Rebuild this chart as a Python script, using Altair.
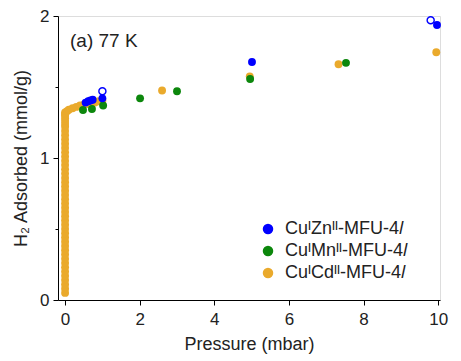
import altair as alt
import pandas as pd

zn_x = [0.55, 0.62, 0.68, 0.74, 1.0, 5.01, 9.97]
zn_y = [1.39, 1.40, 1.405, 1.41, 1.42, 1.676, 1.937]
zn_open_x = [1.0, 9.8]
zn_open_y = [1.47, 1.97]

mn_x = [0.48, 0.72, 1.02, 2.01, 3.0, 4.96, 7.53]
mn_y = [1.338, 1.345, 1.37, 1.42, 1.47, 1.556, 1.67]

cd_x = [0, 0, 0, 0, 0, 0, 0, 0, 0, 0, 0, 0, 0, 0, 0, 0, 0, 0, 0, 0,
        0, 0, 0, 0, 0, 0, 0, 0, 0, 0, 0, 0, 0, 0, 0, 0, 0, 0, 0, 0,
        0, 0, 0, 0, 0, 0,
        0.05, 0.1, 0.2, 0.3, 0.4, 0.5, 0.6, 0.7, 0.8, 0.9, 1.0,
        2.6, 4.95, 7.33, 9.95]
cd_y = [0.05, 0.08, 0.11, 0.14, 0.17, 0.20, 0.23, 0.26, 0.29, 0.32,
        0.35, 0.38, 0.41, 0.44, 0.47, 0.50, 0.53, 0.56, 0.59, 0.62,
        0.65, 0.68, 0.71, 0.74, 0.77, 0.80, 0.83, 0.86, 0.89, 0.92,
        0.95, 0.98, 1.01, 1.04, 1.07, 1.10, 1.13, 1.16, 1.19, 1.22,
        1.24, 1.26, 1.28, 1.30, 1.31, 1.32,
        1.33, 1.34, 1.35, 1.36, 1.37, 1.375, 1.38, 1.385, 1.39, 1.40, 1.405,
        1.475, 1.575, 1.66, 1.745]

names = ["Cu\u1d35Zn\u1d35\u1d35-MFU-4\U0001D459",
         "Cu\u1d35Mn\u1d35\u1d35-MFU-4\U0001D459",
         "Cu\u1d35Cd\u1d35\u1d35-MFU-4\U0001D459"]
colors = ["#0000FF", "#0C870C", "#EAAA2C"]

rows = []
for x, y in zip(cd_x, cd_y):
    rows.append({"p": x, "q": y, "s": names[2], "o": 0})
for x, y in zip(mn_x, mn_y):
    rows.append({"p": x, "q": y, "s": names[1], "o": 1})
for x, y in zip(zn_x, zn_y):
    rows.append({"p": x, "q": y, "s": names[0], "o": 2})
df = pd.DataFrame(rows)
df_open = pd.DataFrame({"p": zn_open_x, "q": zn_open_y})

font = "Liberation Sans"

xscale = alt.Scale(domain=[-0.19, 10.05], nice=False, zero=False)
yscale = alt.Scale(domain=[0, 2], nice=False, zero=False)

xaxis = alt.Axis(
    values=[0, 1, 2, 3, 4, 5, 6, 7, 8, 9, 10],
    labelExpr="datum.value % 2 === 0 ? format(datum.value, 'd') : ''",
    tickSize={"condition": {"test": "datum.value % 2 === 0", "value": 5}, "value": 3},
    grid=False, domainColor="black", tickColor="black", labelColor="#222",
    labelFont=font, labelFontSize=17, titleFont=font, titleFontSize=18,
    titleFontWeight="normal", titleColor="#222", labelPadding=6, titlePadding=8,
    title="Pressure (mbar)",
)
yaxis = alt.Axis(
    values=[0, 0.5, 1, 1.5, 2],
    labelExpr="datum.value % 1 === 0 ? format(datum.value, 'd') : ''",
    tickSize={"condition": {"test": "datum.value % 1 === 0", "value": 5}, "value": 3},
    grid=False, domainColor="black", tickColor="black", labelColor="#222",
    labelFont=font, labelFontSize=17, titleFont=font, titleFontSize=18,
    titleFontWeight="normal", titleColor="#222", labelPadding=4, titlePadding=9,
    title="H\u2082 Adsorbed (mmol/g)",
)

filled = alt.Chart(df).mark_point(filled=True, size=62, opacity=1).encode(
    x=alt.X("p:Q", scale=xscale, axis=xaxis),
    y=alt.Y("q:Q", scale=yscale, axis=yaxis),
    color=alt.Color(
        "s:N",
        scale=alt.Scale(domain=names, range=colors),
        legend=alt.Legend(
            title=None, orient="none", legendX=201, legendY=204,
            labelFont=font, labelFontSize=18, labelColor="#222",
            symbolSize=110, symbolType="circle", rowPadding=4, padding=0,
            labelOffset=8,
        ),
    ),
    order=alt.Order("o:Q"),
)

opened = alt.Chart(df_open).mark_point(filled=False, size=50, color="#0000FF",
                                       strokeWidth=1.4, opacity=1).encode(
    x=alt.X("p:Q", scale=xscale),
    y=alt.Y("q:Q", scale=yscale),
)

label = alt.Chart(pd.DataFrame({"t": ["(a) 77 K"]})).mark_text(
    align="left", baseline="middle", font=font, fontSize=19, color="#222"
).encode(text="t:N", x=alt.value(12), y=alt.value(25))

chart = alt.layer(filled, opened, label).properties(
    width=382, height=284,
    autosize=alt.AutoSizeParams(type="none"),
    padding={"left": 50, "top": 8, "right": 13, "bottom": 58},
).configure_view(stroke="black", strokeWidth=1).configure(background="white")

chart.save("out.html", embed_options={"renderer": "svg", "actions": False})
